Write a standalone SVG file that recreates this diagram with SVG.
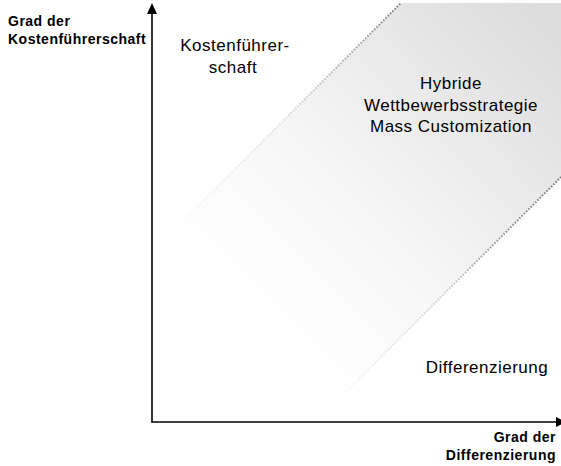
<svg xmlns="http://www.w3.org/2000/svg" width="561" height="466" viewBox="0 0 561 466">
<defs>
<style>
.ax{font-family:"Liberation Sans",Arial,sans-serif;font-weight:bold;font-size:14px;letter-spacing:0.5px;fill:#000}
.lb{font-family:"Liberation Sans",Arial,sans-serif;font-size:17px;letter-spacing:0.5px;fill:#000}
.axis{stroke:#000;stroke-width:1.6;fill:none}
.dot{fill:none;stroke-width:2;stroke-dasharray:1.6 1.6}
</style>
<linearGradient id="bandFill" gradientUnits="userSpaceOnUse" x1="270" y1="320" x2="560" y2="30">
<stop offset="0" stop-color="#ffffff"/>
<stop offset="0.35" stop-color="#f6f6f6"/>
<stop offset="1" stop-color="#dcdcdc"/>
</linearGradient>
<linearGradient id="dotUp" gradientUnits="userSpaceOnUse" x1="157" y1="247" x2="401" y2="3">
<stop offset="0" stop-color="#ffffff"/>
<stop offset="0.5" stop-color="#e0e0e0"/>
<stop offset="0.8" stop-color="#a8a8a8"/>
<stop offset="1" stop-color="#7a7a7a"/>
</linearGradient>
<linearGradient id="dotLo" gradientUnits="userSpaceOnUse" x1="327" y1="411" x2="561" y2="177">
<stop offset="0" stop-color="#ffffff"/>
<stop offset="0.5" stop-color="#d0d0d0"/>
<stop offset="0.7" stop-color="#999999"/>
<stop offset="1" stop-color="#7a7a7a"/>
</linearGradient>
</defs>
<rect width="561" height="466" fill="#fff"/>
<g id="band">
<polygon points="401,3 561,3 561,177 327,411 157,247" fill="url(#bandFill)"/>
<line class="dot" x1="157" y1="247" x2="401" y2="3" stroke="url(#dotUp)"/>
<line class="dot" x1="327" y1="411" x2="561" y2="177" stroke="url(#dotLo)"/>
</g>
<g id="connectors">
<line class="axis" x1="152" y1="422" x2="152" y2="13"/>
<polygon points="152,3 147,14 157,14" fill="#000"/>
<line class="axis" x1="151.2" y1="422" x2="557" y2="422"/>
<polygon points="566,422 556,417 556,427" fill="#000"/>
</g>
<g id="y-axis-label">
<text class="ax" x="8" y="26">Grad der</text>
<text class="ax" x="8" y="44">Kostenführerschaft</text>
</g>
<g id="x-axis-label">
<text class="ax" x="556" y="442" text-anchor="end">Grad der</text>
<text class="ax" x="556" y="460" text-anchor="end">Differenzierung</text>
</g>
<g id="kostenfuehrerschaft">
<text class="lb" x="235" y="51" text-anchor="middle">Kostenführer-</text>
<text class="lb" x="233" y="73" text-anchor="middle">schaft</text>
</g>
<g id="hybride">
<text class="lb" x="451" y="89" text-anchor="middle">Hybride</text>
<text class="lb" x="451" y="111" text-anchor="middle">Wettbewerbsstrategie</text>
<text class="lb" x="451" y="132" text-anchor="middle">Mass Customization</text>
</g>
<g id="differenzierung">
<text class="lb" x="487" y="373" text-anchor="middle">Differenzierung</text>
</g>
</svg>
